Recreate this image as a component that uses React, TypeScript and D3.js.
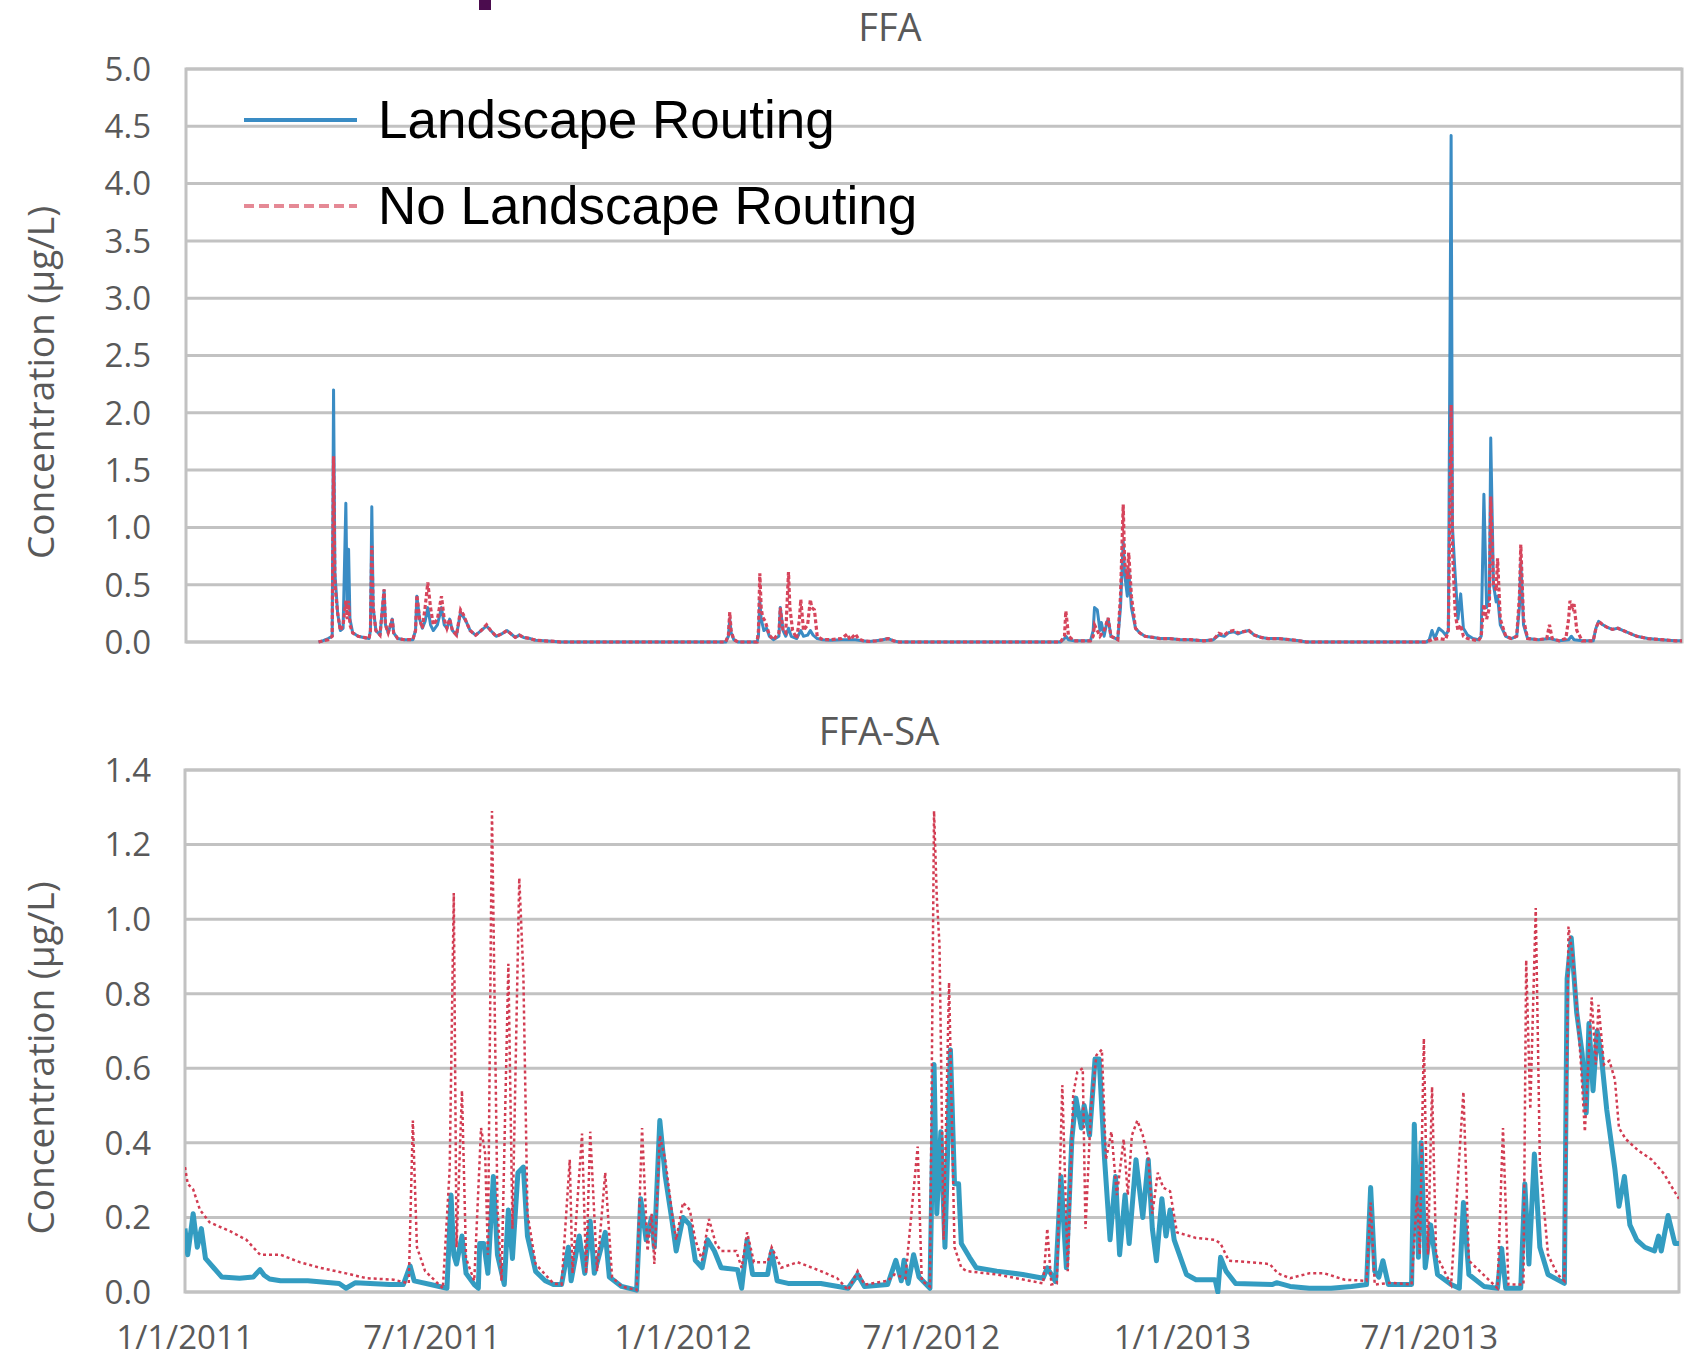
import React, { useRef, useEffect } from "react";
import * as d3 from "d3";

// day offsets from 1/1/2011, concentration in µg/L
const ffaLandscape: [number, number][] = [
  [97, 0], [100, 0.01], [104, 0.03], [107, 0.05], [108, 2.2], [109, 0.6], [111, 0.25], [113, 0.1], [115, 0.12],
  [117, 1.21], [118, 0.3], [119, 0.81], [120, 0.2], [122, 0.08], [126, 0.05], [130, 0.04], [134, 0.03], [135, 0.1],
  [136, 1.18], [137, 0.3], [139, 0.1], [142, 0.06], [145, 0.45], [146, 0.15], [148, 0.08], [151, 0.2], [152, 0.08],
  [155, 0.03], [160, 0.02], [166, 0.02], [168, 0.1], [169, 0.4], [171, 0.2], [173, 0.12], [175, 0.18], [177, 0.3],
  [179, 0.15], [181, 0.1], [184, 0.15], [187, 0.3], [189, 0.15], [191, 0.12], [193, 0.2], [195, 0.1], [198, 0.06],
  [201, 0.26], [203, 0.22], [205, 0.18], [208, 0.1], [212, 0.06], [216, 0.1], [220, 0.14], [223, 0.1], [227, 0.05],
  [231, 0.07], [235, 0.1], [238, 0.07], [241, 0.04], [244, 0.06], [247, 0.04], [252, 0.03], [256, 0.015], [262, 0.01],
  [270, 0.005], [274, 0], [395, 0], [397, 0.05], [398, 0.2], [399, 0.08], [401, 0.02], [404, 0], [418, 0], [419, 0.05],
  [420, 0.36], [421, 0.2], [423, 0.1], [425, 0.12], [427, 0.05], [430, 0.02], [434, 0.05], [435, 0.3], [437, 0.1],
  [439, 0.05], [441, 0.12], [443, 0.05], [447, 0.03], [450, 0.1], [452, 0.05], [455, 0.06], [457, 0.1], [459, 0.06],
  [462, 0.03], [466, 0.02], [472, 0.015], [480, 0.02], [485, 0.02], [490, 0.02], [495, 0.01], [500, 0.005], [505, 0.01],
  [510, 0.02], [514, 0.03], [518, 0.01], [522, 0], [640, 0], [643, 0.03], [644, 0.05], [646, 0.02], [650, 0.01],
  [662, 0.01], [664, 0.1], [665, 0.3], [667, 0.28], [669, 0.1], [670, 0.17], [672, 0.05], [674, 0.17], [675, 0.2],
  [677, 0.05], [682, 0.02], [684, 0.3], [686, 0.88], [687, 0.6], [689, 0.4], [690, 0.63], [692, 0.3], [695, 0.12],
  [698, 0.08], [702, 0.05], [708, 0.04], [713, 0.03], [720, 0.03], [728, 0.02], [735, 0.02], [745, 0.01], [752, 0.02],
  [756, 0.06], [760, 0.05], [763, 0.08], [767, 0.09], [770, 0.07], [774, 0.09], [778, 0.1], [782, 0.06], [787, 0.04],
  [792, 0.03], [800, 0.03], [808, 0.02], [815, 0.01], [820, 0], [908, 0], [910, 0.02], [912, 0.1], [914, 0.03],
  [917, 0.12], [920, 0.09], [922, 0.06], [924, 0.1], [926, 4.42], [927, 1.0], [929, 0.58], [931, 0.2], [933, 0.42],
  [935, 0.12], [938, 0.06], [942, 0.03], [946, 0.02], [948, 0.05], [950, 1.29], [952, 0.3], [954, 0.4], [955, 1.78],
  [957, 0.5], [959, 0.35], [960, 0.4], [962, 0.15], [966, 0.05], [970, 0.03], [974, 0.05], [976, 0.3], [977, 0.69],
  [979, 0.15], [982, 0.03], [990, 0.02], [998, 0.03], [1005, 0.01], [1012, 0.02], [1014, 0.05], [1016, 0.02],
  [1022, 0.01], [1030, 0.01], [1032, 0.12], [1034, 0.18], [1037, 0.15], [1040, 0.13], [1044, 0.11], [1048, 0.12],
  [1052, 0.1], [1056, 0.08], [1062, 0.05], [1070, 0.03], [1080, 0.02], [1090, 0.01], [1095, 0.01],
];

const ffaNoLandscape: [number, number][] = [
  [97, 0], [100, 0.01], [104, 0.02], [107, 0.05], [108, 1.62], [109, 0.5], [111, 0.25], [113, 0.1], [115, 0.15],
  [117, 0.36], [118, 0.2], [119, 0.36], [120, 0.15], [122, 0.08], [126, 0.05], [130, 0.04], [134, 0.03], [135, 0.1],
  [136, 0.84], [137, 0.3], [139, 0.1], [142, 0.06], [145, 0.46], [146, 0.15], [148, 0.08], [151, 0.2], [152, 0.08],
  [155, 0.03], [160, 0.02], [166, 0.02], [168, 0.1], [169, 0.41], [171, 0.2], [173, 0.12], [175, 0.3], [177, 0.52],
  [179, 0.3], [181, 0.15], [184, 0.2], [187, 0.4], [189, 0.2], [191, 0.12], [193, 0.2], [195, 0.1], [198, 0.06],
  [201, 0.28], [203, 0.24], [205, 0.18], [208, 0.1], [212, 0.06], [216, 0.1], [220, 0.15], [223, 0.1], [227, 0.05],
  [231, 0.07], [235, 0.1], [238, 0.07], [241, 0.04], [244, 0.06], [247, 0.04], [252, 0.03], [256, 0.015], [262, 0.01],
  [270, 0.005], [274, 0], [395, 0], [397, 0.06], [398, 0.26], [399, 0.1], [401, 0.02], [404, 0], [418, 0], [419, 0.1],
  [420, 0.6], [421, 0.3], [422, 0.22], [424, 0.18], [427, 0.06], [430, 0.02], [434, 0.08], [435, 0.3], [437, 0.1],
  [439, 0.08], [441, 0.61], [442, 0.3], [444, 0.1], [447, 0.03], [449, 0.2], [450, 0.37], [452, 0.1], [455, 0.15],
  [457, 0.37], [458, 0.3], [460, 0.28], [462, 0.05], [466, 0.02], [472, 0.02], [480, 0.03], [484, 0.07], [486, 0.02],
  [490, 0.07], [492, 0.03], [496, 0.01], [500, 0.005], [505, 0.01], [510, 0.02], [514, 0.03], [518, 0.01], [522, 0],
  [640, 0], [643, 0.05], [644, 0.27], [646, 0.05], [650, 0.01], [662, 0.01], [664, 0.05], [665, 0.15], [667, 0.1],
  [669, 0.05], [672, 0.1], [675, 0.21], [677, 0.05], [682, 0.02], [684, 0.4], [686, 1.2], [687, 0.7], [689, 0.55],
  [690, 0.78], [692, 0.4], [695, 0.12], [698, 0.08], [702, 0.05], [708, 0.04], [713, 0.03], [720, 0.03], [728, 0.02],
  [735, 0.02], [745, 0.01], [752, 0.02], [756, 0.075], [760, 0.06], [763, 0.09], [767, 0.1], [770, 0.08], [774, 0.09],
  [778, 0.1], [782, 0.06], [787, 0.04], [792, 0.03], [800, 0.03], [808, 0.02], [815, 0.01], [820, 0], [908, 0],
  [912, 0.02], [917, 0.03], [922, 0.02], [924, 0.1], [926, 2.07], [927, 0.8], [929, 0.25], [931, 0.1], [933, 0.15],
  [935, 0.05], [938, 0.03], [942, 0.02], [946, 0.01], [948, 0.05], [950, 0.33], [952, 0.2], [954, 0.3], [955, 1.27],
  [957, 0.5], [959, 0.45], [960, 0.73], [962, 0.2], [966, 0.05], [970, 0.03], [974, 0.05], [976, 0.4], [977, 0.85],
  [979, 0.2], [982, 0.03], [990, 0.02], [996, 0.03], [998, 0.15], [1000, 0.03], [1005, 0.01], [1010, 0.03],
  [1012, 0.2], [1013, 0.36], [1015, 0.3], [1016, 0.33], [1018, 0.1], [1022, 0.01], [1030, 0.01], [1032, 0.12],
  [1034, 0.18], [1037, 0.15], [1040, 0.13], [1044, 0.11], [1048, 0.12], [1052, 0.1], [1056, 0.08], [1062, 0.05],
  [1070, 0.03], [1080, 0.02], [1090, 0.01], [1095, 0.01],
];

const ffaSaLandscape: [number, number][] = [
  [0, 0.17], [2, 0.1], [6, 0.21], [9, 0.12], [12, 0.17], [15, 0.09], [21, 0.065], [27, 0.04], [40, 0.037], [50, 0.04],
  [55, 0.06], [58, 0.045], [62, 0.035], [70, 0.03], [90, 0.03], [113, 0.023], [118, 0.01], [125, 0.025], [150, 0.02],
  [160, 0.02], [165, 0.07], [168, 0.03], [180, 0.02], [192, 0.01], [195, 0.26], [197, 0.1], [199, 0.075], [203, 0.15],
  [206, 0.05], [212, 0.02], [215, 0.01], [216, 0.13], [219, 0.13], [222, 0.05], [226, 0.31], [229, 0.1], [234, 0.02],
  [237, 0.22], [240, 0.09], [244, 0.32], [248, 0.335], [251, 0.15], [257, 0.055], [264, 0.03], [270, 0.02],
  [276, 0.02], [281, 0.12], [283, 0.03], [289, 0.15], [293, 0.05], [297, 0.19], [300, 0.05], [308, 0.16], [311, 0.04],
  [320, 0.015], [331, 0.005], [334, 0.25], [338, 0.14], [342, 0.2], [344, 0.12], [348, 0.46], [352, 0.31], [357, 0.19],
  [360, 0.11], [365, 0.2], [370, 0.18], [374, 0.085], [379, 0.065], [383, 0.14], [388, 0.11], [393, 0.065], [405, 0.06],
  [408, 0.01], [412, 0.14], [416, 0.047], [427, 0.047], [430, 0.11], [434, 0.03], [442, 0.023], [466, 0.023],
  [486, 0.01], [493, 0.047], [498, 0.015], [515, 0.02], [521, 0.085], [525, 0.03], [527, 0.085], [530, 0.023],
  [534, 0.1], [538, 0.04], [546, 0.01], [549, 0.61], [551, 0.21], [554, 0.43], [557, 0.12], [561, 0.65], [564, 0.29],
  [567, 0.29], [569, 0.13], [575, 0.093], [580, 0.065], [595, 0.056], [614, 0.047], [629, 0.037], [632, 0.065],
  [638, 0.028], [642, 0.31], [646, 0.065], [650, 0.41], [653, 0.52], [657, 0.44], [659, 0.5], [663, 0.42], [667, 0.625],
  [670, 0.625], [674, 0.355], [678, 0.14], [682, 0.31], [685, 0.1], [689, 0.26], [692, 0.13], [697, 0.355], [702, 0.2],
  [706, 0.355], [709, 0.17], [712, 0.084], [716, 0.25], [719, 0.15], [722, 0.22], [725, 0.14], [734, 0.047],
  [741, 0.033], [755, 0.033], [757, 0], [759, 0.093], [763, 0.056], [770, 0.023], [797, 0.02], [800, 0.025],
  [810, 0.015], [824, 0.01], [840, 0.01], [855, 0.015], [866, 0.02], [869, 0.28], [872, 0.056], [875, 0.04],
  [878, 0.084], [882, 0.02], [899, 0.02], [901, 0.45], [904, 0.093], [906, 0.4], [909, 0.065], [913, 0.18],
  [918, 0.047], [928, 0.02], [934, 0.01], [937, 0.24], [941, 0.047], [952, 0.015], [962, 0.01], [965, 0.117],
  [968, 0.01], [979, 0.01], [982, 0.29], [985, 0.075], [989, 0.37], [993, 0.12], [999, 0.047], [1011, 0.023],
  [1013, 0.84], [1016, 0.95], [1020, 0.75], [1024, 0.64], [1027, 0.48], [1029, 0.72], [1032, 0.54], [1035, 0.7],
  [1038, 0.635], [1042, 0.49], [1048, 0.33], [1051, 0.23], [1055, 0.31], [1059, 0.18], [1064, 0.14], [1070, 0.12],
  [1077, 0.11], [1080, 0.15], [1082, 0.11], [1087, 0.205], [1092, 0.13], [1095, 0.13],
];

const ffaSaNoLandscape: [number, number][] = [
  [0, 0.335], [2, 0.29], [6, 0.275], [11, 0.22], [18, 0.187], [33, 0.163], [45, 0.14], [55, 0.1], [70, 0.1],
  [84, 0.08], [99, 0.065], [118, 0.05], [133, 0.037], [153, 0.033], [164, 0.023], [167, 0.46], [170, 0.12],
  [176, 0.056], [189, 0.01], [194, 0.33], [197, 1.07], [199, 0.12], [203, 0.54], [206, 0.09], [212, 0.03], [217, 0.44],
  [220, 0.37], [222, 0.1], [225, 1.29], [229, 0.23], [232, 0.03], [237, 0.88], [240, 0.17], [245, 1.11], [248, 0.85],
  [251, 0.21], [257, 0.075], [270, 0.023], [276, 0.02], [282, 0.355], [284, 0.05], [291, 0.425], [294, 0.05],
  [297, 0.43], [302, 0.056], [308, 0.32], [313, 0.04], [320, 0.015], [331, 0.005], [335, 0.44], [339, 0.11],
  [342, 0.21], [344, 0.075], [348, 0.42], [352, 0.355], [357, 0.21], [360, 0.14], [365, 0.24], [370, 0.22], [374, 0.14],
  [379, 0.085], [384, 0.196], [389, 0.13], [393, 0.11], [404, 0.11], [408, 0.065], [412, 0.16], [417, 0.08],
  [427, 0.08], [430, 0.12], [437, 0.065], [449, 0.08], [466, 0.056], [478, 0.037], [486, 0.005], [493, 0.056],
  [498, 0.02], [515, 0.03], [520, 0.047], [528, 0.037], [537, 0.39], [540, 0.03], [546, 0.015], [549, 1.29],
  [551, 1.06], [553, 0.93], [556, 0.14], [560, 0.83], [564, 0.12], [569, 0.065], [573, 0.056], [595, 0.047],
  [629, 0.023], [632, 0.17], [635, 0.02], [639, 0.023], [643, 0.555], [647, 0.056], [651, 0.53], [654, 0.59],
  [658, 0.6], [660, 0.17], [664, 0.49], [668, 0.635], [672, 0.65], [675, 0.355], [679, 0.43], [683, 0.26], [688, 0.41],
  [691, 0.26], [694, 0.42], [698, 0.46], [702, 0.42], [706, 0.36], [709, 0.21], [713, 0.32], [717, 0.28], [722, 0.27],
  [727, 0.16], [741, 0.145], [755, 0.14], [759, 0.13], [765, 0.084], [780, 0.08], [795, 0.075], [801, 0.05],
  [810, 0.037], [824, 0.05], [835, 0.05], [850, 0.033], [866, 0.03], [869, 0.24], [872, 0.02], [884, 0.025],
  [899, 0.02], [903, 0.26], [905, 0.1], [908, 0.68], [911, 0.1], [914, 0.55], [917, 0.1], [928, 0.02], [937, 0.537],
  [941, 0.084], [962, 0.01], [966, 0.44], [970, 0.02], [981, 0.02], [983, 0.89], [986, 0.49], [990, 1.03],
  [993, 0.355], [999, 0.1], [1006, 0.047], [1011, 0.03], [1014, 0.98], [1017, 0.905], [1020, 0.77], [1023, 0.62],
  [1026, 0.43], [1031, 0.79], [1034, 0.61], [1036, 0.77], [1040, 0.61], [1044, 0.62], [1048, 0.57], [1051, 0.44],
  [1056, 0.41], [1065, 0.38], [1075, 0.355], [1084, 0.317], [1090, 0.28], [1095, 0.25],
];

const dateTicks = ["1/1/2011", "7/1/2011", "1/1/2012", "7/1/2012", "1/1/2013", "7/1/2013"];
const ffaYTicks = [0, 0.5, 1, 1.5, 2, 2.5, 3, 3.5, 4, 4.5, 5];
const ffaSaYTicks = [0, 0.2, 0.4, 0.6, 0.8, 1.0, 1.2, 1.4];
const legendLabels = ["Landscape Routing", "No Landscape Routing"];

const W = 1685;
const H = 1359;
const tickFont = "'Open Sans', 'DejaVu Sans', sans-serif";
const gridColor = "#c2c2c2";
const textGray = "#595959";

export default function App() {
  const ref = useRef<SVGSVGElement>(null);

  useEffect(() => {
    const svg = d3.select(ref.current);
    svg.selectAll("*").remove();

    const parse = d3.timeParse("%m/%d/%Y");
    const start = parse("1/1/2011") as Date;
    const end = d3.timeDay.offset(start, 1095);
    const toDate = (d: number) => d3.timeDay.offset(start, d);

    svg.append("rect").attr("width", W).attr("height", H).attr("fill", "#fff");
    // bit of the slide above the chart
    svg.append("rect").attr("x", 479).attr("y", 0).attr("width", 12).attr("height", 10).attr("fill", "#4b0c4e");

    function panel(opts: {
      id: string;
      box: { left: number; right: number; top: number; bottom: number };
      ymax: number;
      yticks: number[];
      title: string;
      titleX: number;
      titleY: number;
      blue: [number, number][];
      red: [number, number][];
      blueColor: string;
      blueWidth: number;
      redColor: string;
      redWidth: number;
      redDash: string;
    }) {
      const { box } = opts;
      const x = d3.scaleTime().domain([start, end]).range([box.left, box.right]);
      const y = d3.scaleLinear().domain([0, opts.ymax]).range([box.bottom, box.top]);
      const g = svg.append("g");

      g.selectAll("line.grid")
        .data(opts.yticks)
        .enter()
        .append("line")
        .attr("x1", box.left)
        .attr("x2", box.right)
        .attr("y1", (d) => y(d))
        .attr("y2", (d) => y(d))
        .attr("stroke", gridColor)
        .attr("stroke-width", 3);

      g.append("rect")
        .attr("x", box.left)
        .attr("y", box.top)
        .attr("width", box.right - box.left)
        .attr("height", box.bottom - box.top)
        .attr("fill", "none")
        .attr("stroke", gridColor)
        .attr("stroke-width", 3);

      g.selectAll("text.ytick")
        .data(opts.yticks)
        .enter()
        .append("text")
        .attr("x", 151)
        .attr("y", (d) => y(d))
        .attr("dy", "0.36em")
        .attr("text-anchor", "end")
        .attr("font-family", tickFont)
        .attr("font-size", 33)
        .attr("fill", textGray)
        .text((d) => d3.format(".1f")(d));

      g.append("text")
        .attr("transform", `translate(41,${(box.top + box.bottom) / 2 + 27}) rotate(-90)`)
        .attr("text-anchor", "middle")
        .attr("dy", "0.36em")
        .attr("font-family", tickFont)
        .attr("font-size", 37)
        .attr("fill", textGray)
        .text("Concentration (µg/L)");

      g.append("text")
        .attr("x", opts.titleX)
        .attr("y", opts.titleY)
        .attr("text-anchor", "middle")
        .attr("font-family", tickFont)
        .attr("font-size", 38)
        .attr("fill", textGray)
        .text(opts.title);

      svg
        .append("clipPath")
        .attr("id", opts.id)
        .append("rect")
        .attr("x", box.left)
        .attr("y", box.top - 2)
        .attr("width", box.right - box.left)
        .attr("height", box.bottom - box.top + 4);

      const line = d3
        .line<[number, number]>()
        .x((d) => x(toDate(d[0])))
        .y((d) => y(d[1]));

      g.append("path")
        .datum(opts.blue)
        .attr("d", line)
        .attr("clip-path", `url(#${opts.id})`)
        .attr("fill", "none")
        .attr("stroke", opts.blueColor)
        .attr("stroke-width", opts.blueWidth)
        .attr("stroke-linejoin", "round");

      g.append("path")
        .datum(opts.red)
        .attr("d", line)
        .attr("clip-path", `url(#${opts.id})`)
        .attr("fill", "none")
        .attr("stroke", opts.redColor)
        .attr("stroke-width", opts.redWidth)
        .attr("stroke-dasharray", opts.redDash);

      return x;
    }

    panel({
      id: "clipTop",
      box: { left: 186, right: 1682, top: 69, bottom: 642 },
      ymax: 5,
      yticks: ffaYTicks,
      title: "FFA",
      titleX: 890,
      titleY: 41,
      blue: ffaLandscape,
      red: ffaNoLandscape,
      blueColor: "#3a8cc4",
      blueWidth: 3,
      redColor: "#d6455c",
      redWidth: 3.2,
      redDash: "4,2.5",
    });

    const xb = panel({
      id: "clipBottom",
      box: { left: 185, right: 1679, top: 770, bottom: 1292 },
      ymax: 1.4,
      yticks: ffaSaYTicks,
      title: "FFA-SA",
      titleX: 879,
      titleY: 745,
      blue: ffaSaLandscape,
      red: ffaSaNoLandscape,
      blueColor: "#339cc1",
      blueWidth: 5,
      redColor: "#d23c52",
      redWidth: 2.5,
      redDash: "3,3",
    });

    svg
      .append("g")
      .selectAll("text")
      .data(dateTicks)
      .enter()
      .append("text")
      .attr("x", (d) => xb(parse(d) as Date))
      .attr("y", 1349)
      .attr("text-anchor", "middle")
      .attr("font-family", tickFont)
      .attr("font-size", 33)
      .attr("fill", textGray)
      .text((d) => d);

    // legend
    const legend = svg.append("g");
    const legendY = [120, 206];
    legend
      .append("line")
      .attr("x1", 244)
      .attr("x2", 357)
      .attr("y1", legendY[0])
      .attr("y2", legendY[0])
      .attr("stroke", "#3a8cc4")
      .attr("stroke-width", 4);
    legend
      .append("line")
      .attr("x1", 244)
      .attr("x2", 357)
      .attr("y1", legendY[1])
      .attr("y2", legendY[1])
      .attr("stroke", "#e58995")
      .attr("stroke-width", 4)
      .attr("stroke-dasharray", "10,5");
    legend
      .selectAll("text")
      .data(legendLabels)
      .enter()
      .append("text")
      .attr("x", 378)
      .attr("y", (d, i) => [138, 224][i])
      .attr("font-family", "'Liberation Sans', Arial, sans-serif")
      .attr("font-size", 53)
      .attr("fill", "#000")
      .text((d) => d);
  }, []);

  return (
    <div>
      <svg
        ref={ref}
        width={W}
        height={H}
        style={{ position: "absolute", left: 0, top: 0, display: "block" }}
      ></svg>
    </div>
  );
}
